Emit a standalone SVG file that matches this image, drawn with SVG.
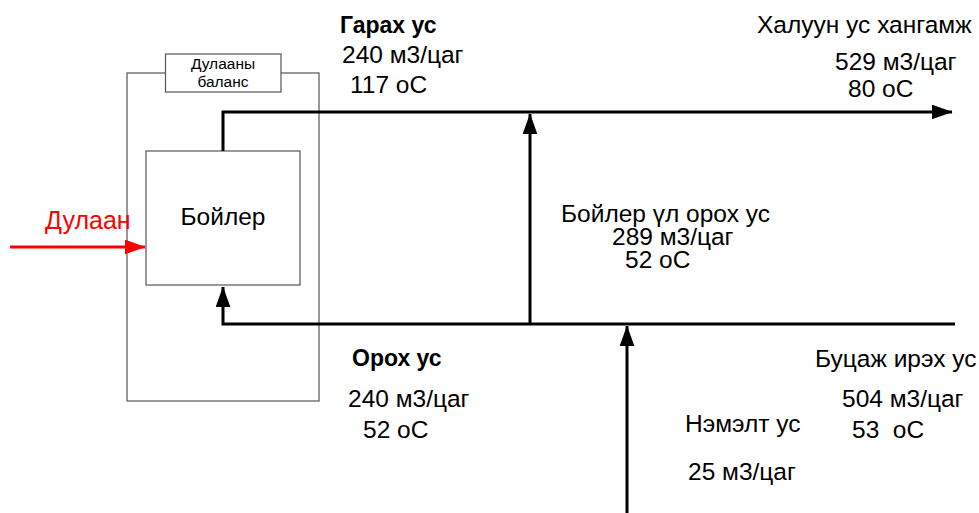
<svg xmlns="http://www.w3.org/2000/svg" width="979" height="513" viewBox="0 0 979 513">
<style>
text{font-family:"Liberation Sans",Arial,sans-serif;fill:#000;}
.t{font-size:24.5px;}
.b{font-size:23px;font-weight:bold;}
.s{font-size:15.5px;}
.pipe{fill:none;stroke:#000;stroke-width:3;}
.frame{fill:#fff;stroke:#555;stroke-width:1.2;}
</style>
<defs>
<marker id="ah" markerWidth="7" markerHeight="5" refX="6.8" refY="2.5" orient="auto" markerUnits="strokeWidth">
<path d="M0,0 L7,2.5 L0,5 Z" fill="#000"/>
</marker>
<marker id="ahr" markerWidth="7" markerHeight="5" refX="6.8" refY="2.5" orient="auto" markerUnits="strokeWidth">
<path d="M0,0 L7,2.5 L0,5 Z" fill="#f00"/>
</marker>
</defs>
<rect width="979" height="513" fill="#fff"/>
<g id="balance">
<rect class="frame" x="127" y="73" width="192" height="328" style="fill:none"/>
<rect class="frame" x="165.5" y="54" width="115.5" height="38"/>
<text class="s" x="223" y="69" text-anchor="middle">Дулааны</text>
<text class="s" x="223" y="87" text-anchor="middle">баланс</text>
</g>
<g id="boiler">
<rect class="frame" x="146" y="151" width="154" height="134"/>
<text class="t" x="223" y="225" text-anchor="middle">Бойлер</text>
</g>
<g id="connectors">
<path class="pipe" d="M223,151 V112 H952" marker-end="url(#ah)"/>
<path class="pipe" d="M955,324 H223 V287" marker-end="url(#ah)"/>
<path class="pipe" d="M530,324 V114" marker-end="url(#ah)"/>
<path class="pipe" d="M627,513 V326" marker-end="url(#ah)"/>
<path d="M10,247 H145" fill="none" stroke="#f00" stroke-width="3" marker-end="url(#ahr)"/>
</g>
<g id="labels">
<text class="t" x="45" y="229" style="fill:#f00;font-size:25px">Дулаан</text>
<text class="b" x="340" y="33">Гарах ус</text>
<text class="t" x="342" y="63">240 м3/цаг</text>
<text class="t" x="350" y="93">117 оС</text>
<text class="t" x="757" y="33">Халуун ус хангамж</text>
<text class="t" x="835" y="70">529 м3/цаг</text>
<text class="t" x="848" y="97">80 оС</text>
<text class="t" x="561" y="222">Бойлер үл орох ус</text>
<text class="t" x="612" y="245">289 м3/цаг</text>
<text class="t" x="625" y="268">52 оС</text>
<text class="b" x="352" y="366">Орох ус</text>
<text class="t" x="348" y="407">240 м3/цаг</text>
<text class="t" x="363" y="438">52 оС</text>
<text class="t" x="815" y="367">Буцаж ирэх ус</text>
<text class="t" x="842" y="407">504 м3/цаг</text>
<text class="t" x="852" y="438" xml:space="preserve">53  оС</text>
<text class="t" x="685" y="432">Нэмэлт ус</text>
<text class="t" x="688" y="480">25 м3/цаг</text>
</g>
</svg>
